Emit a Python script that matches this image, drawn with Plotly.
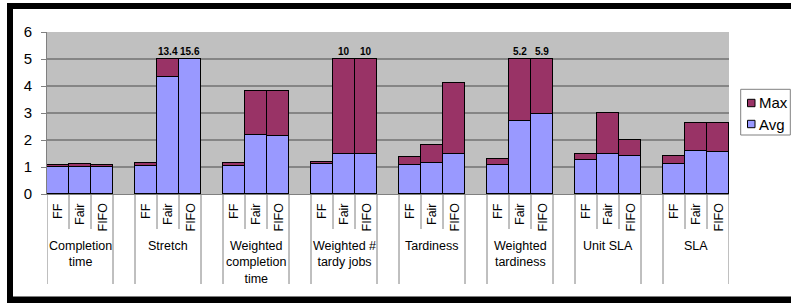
import plotly.graph_objects as go

# ---------------- data ----------------
groups = ["Completion<br>time", "Stretch", "Weighted<br>completion<br>time",
          "Weighted #<br>tardy jobs", "Tardiness", "Weighted<br>tardiness",
          "Unit SLA", "SLA"]
policies = ["FF", "Fair", "FIFO"]

avg_ff   = [1.00, 1.04, 1.04, 1.11, 1.09, 1.07, 1.26, 1.12]
avg_fair = [1.00, 4.33, 2.20, 1.49, 1.14, 2.70, 1.48, 1.60]
avg_fifo = [1.00, 5.00, 2.15, 1.49, 1.48, 2.95, 1.42, 1.56]  # Stretch FIFO avg is off-scale (>=5)
max_ff   = [1.07, 1.13, 1.13, 1.20, 1.36, 1.31, 1.48, 1.42]
max_fair = [1.12, 13.4, 3.81, 10.0, 1.83, 5.2, 2.99, 2.63]
max_fifo = [1.07, 15.6, 3.81, 10.0, 4.12, 5.9, 1.99, 2.63]

y_ticks = [0, 1, 2, 3, 4, 5, 6]
y_cap = 5          # bars are cut at 5, the real value is printed above
slots_per_group = 4  # 3 policies + one empty slot between groups

AVG_COLOR = "#9999FF"
MAX_COLOR = "#993366"
FONT = "Liberation Sans, Arial, sans-serif"

# ---------------- geometry helpers ----------------
W_FIG, H_FIG = 791, 303
L, T, R, B = 47, 32, 62, 109
PW, PH = W_FIG - L - R, H_FIG - T - B


def px_x(px):
    return (px - L) / PW


def px_y(py):
    return (T + PH - py) / PH


avgs = [avg_ff, avg_fair, avg_fifo]
maxs = [max_ff, max_fair, max_fifo]

xs, avg_vals, max_vals, real_max = [], [], [], []
for g in range(len(groups)):
    for j in range(len(policies)):
        xs.append(g * slots_per_group + j)
        a = min(avgs[j][g], y_cap)
        m = min(maxs[j][g], y_cap)
        avg_vals.append(a)
        max_vals.append(m - a)
        real_max.append(maxs[j][g])

n_slots = len(groups) * slots_per_group - 1

fig = go.Figure()
fig.add_trace(go.Bar(x=xs, y=avg_vals, name="Avg", width=1,
                     marker=dict(color=AVG_COLOR, line=dict(color="black", width=1)),
                     showlegend=False))
fig.add_trace(go.Bar(x=xs, y=max_vals, name="Max", width=1,
                     marker=dict(color=MAX_COLOR, line=dict(color="black", width=1)),
                     showlegend=False))

shapes = []
annotations = []

# gridlines
for v in y_ticks[1:-1]:
    shapes.append(dict(type="line", xref="paper", yref="y", x0=0, x1=1, y0=v, y1=v,
                       line=dict(color="#4a4a4a", width=1), layer="below"))

# category separators
for b in range(n_slots + 1):
    pos_in_group = b % slots_per_group
    long_line = pos_in_group in (0, 3)
    shapes.append(dict(type="line", xref="x", yref="paper", x0=b - 0.5, x1=b - 0.5,
                       y0=0, y1=px_y(284 if long_line else 229),
                       line=dict(color="#808080", width=1)))

# policy labels (rotated)
for g in range(len(groups)):
    for j, p in enumerate(policies):
        annotations.append(dict(x=g * slots_per_group + j, y=px_y(201), xref="x", yref="paper",
                                text=p, textangle=-90, showarrow=False,
                                xanchor="center", yanchor="top",
                                font=dict(size=12.5, color="black", family=FONT)))
    annotations.append(dict(x=g * slots_per_group + 1, y=px_y(237), xref="x", yref="paper",
                            text=groups[g], showarrow=False, align="center",
                            xanchor="center", yanchor="top",
                            font=dict(size=12.5, color="black", family=FONT)))

# overflow labels
for x, rm in zip(xs, real_max):
    if rm > y_cap:
        annotations.append(dict(x=x, y=y_cap, xref="x", yref="y", text=f"<b>{rm:g}</b>",
                                showarrow=False, xanchor="center", yanchor="bottom", yshift=0,
                                font=dict(size=10, color="black", family=FONT)))

# custom legend
shapes.append(dict(type="rect", xref="paper", yref="paper",
                   x0=px_x(740.7), x1=px_x(790.3), y0=px_y(135), y1=px_y(89.3),
                   line=dict(color="#808080", width=1), fillcolor="white"))
for name, color, cy in [("Max", MAX_COLOR, 103), ("Avg", AVG_COLOR, 124)]:
    shapes.append(dict(type="rect", xref="paper", yref="paper",
                       x0=px_x(747.5), x1=px_x(755), y0=px_y(cy + 3.7), y1=px_y(cy - 3.7),
                       line=dict(color="black", width=1), fillcolor=color))
    annotations.append(dict(x=px_x(756.5), y=px_y(cy), xref="paper", yref="paper",
                            text=name, showarrow=False, xanchor="left", yanchor="middle",
                            font=dict(size=15, color="black", family=FONT)))

# black frame (cropped screenshot border)
shapes.append(dict(type="rect", xref="paper", yref="paper", x0=px_x(7), x1=px_x(800),
                   y0=px_y(9), y1=px_y(3), fillcolor="black", line=dict(width=0)))
shapes.append(dict(type="rect", xref="paper", yref="paper", x0=px_x(7), x1=px_x(13),
                   y0=px_y(310), y1=px_y(3), fillcolor="black", line=dict(width=0)))
shapes.append(dict(type="rect", xref="paper", yref="paper", x0=px_x(7), x1=px_x(800),
                   y0=px_y(310), y1=px_y(296.5), fillcolor="black", line=dict(width=0)))

fig.update_layout(
    width=W_FIG, height=H_FIG,
    margin=dict(l=L, r=R, t=T, b=B, pad=0),
    paper_bgcolor="white", plot_bgcolor="#C0C0C0",
    barmode="stack", bargap=0,
    font=dict(family=FONT, color="black"),
    showlegend=False,
    hovermode=False,
    xaxis=dict(range=[-0.5, n_slots - 0.5], showticklabels=False, ticks="",
               showgrid=False, zeroline=False, showline=True, linecolor="#808080",
               linewidth=1, fixedrange=True),
    yaxis=dict(range=[0, 6], tickvals=y_ticks, ticks="outside", ticklen=5,
               tickcolor="#808080", showline=True, linecolor="#808080", linewidth=1,
               showgrid=False, zeroline=False, ticklabelstandoff=6, fixedrange=True,
               tickfont=dict(size=15, color="black", family=FONT)),
    shapes=shapes, annotations=annotations,
)

fig.write_html("out.html", config={"displayModeBar": False},
               post_script="document.body.style.margin='0';document.body.style.overflow='hidden';")
